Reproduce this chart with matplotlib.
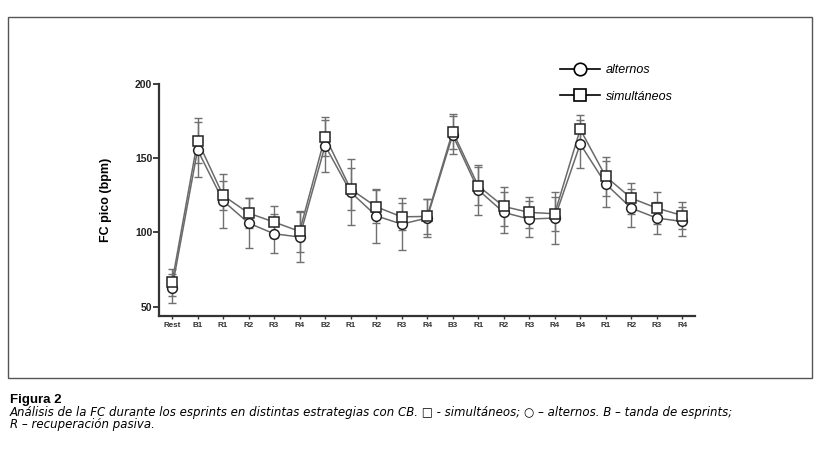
import numpy as np
import matplotlib
matplotlib.use('Agg')
import matplotlib.pyplot as plt
from matplotlib.patches import Rectangle

plt.rcParams['font.family'] = ['Liberation Sans', 'DejaVu Sans']

etiquetas = ['Rest', 'B1', 'R1', 'R2', 'R3', 'R4',
             'B2', 'R1', 'R2', 'R3', 'R4',
             'B3', 'R1', 'R2', 'R3', 'R4',
             'B4', 'R1', 'R2', 'R3', 'R4']

alternos = [62.3, 155.6, 121.3, 106.3, 99.1, 96.9, 158.5, 127.2, 111.2, 105.6, 109.7,
            165.7, 128.7, 113.5, 109.0, 109.7, 159.6, 132.7, 116.4, 109.7, 107.4]
alternos_sd = [10, 18.5, 18, 17, 13, 17, 17.5, 22.5, 18, 17.7, 13,
               12.6, 17, 14, 12.3, 17.5, 16, 15.5, 13, 11, 10]

simultaneos = [66.4, 161.9, 124.9, 113.0, 107.0, 100.7, 164.6, 129.2, 117.3, 110.5, 110.8,
               168.0, 131.4, 117.5, 113.5, 112.6, 169.5, 137.7, 123.1, 116.4, 111.4]
simultaneos_sd = [9.2, 15, 10, 10, 10.5, 14, 13, 14, 11, 9, 12,
                  12, 13, 13, 10.7, 11.5, 9.6, 13.4, 10.5, 11, 9]

x = np.arange(len(etiquetas))

fig = plt.figure(figsize=(8.22, 4.5), dpi=100)
ax = fig.add_axes([0.1938, 0.2978, 0.6517, 0.5155])

# barras de error grises
ax.errorbar(x, alternos, yerr=alternos_sd, fmt='none', ecolor='#707070',
            elinewidth=1.0, capsize=3.2, capthick=1.0, zorder=1)
ax.errorbar(x, simultaneos, yerr=simultaneos_sd, fmt='none', ecolor='#707070',
            elinewidth=1.0, capsize=3.2, capthick=1.0, zorder=1)

# lineas grises con marcadores blancos
ax.plot(x, alternos, color='#6a6a6a', lw=1.1, zorder=2)
ax.plot(x, simultaneos, color='#6a6a6a', lw=1.1, zorder=2)
ax.plot(x, alternos, ls='none', marker='o', ms=7, mfc='white', mec='#222222',
        mew=1.1, zorder=3)
ax.plot(x, simultaneos, ls='none', marker='s', ms=7, mfc='white', mec='#222222',
        mew=1.1, zorder=4)

# leyenda
h1, = ax.plot([], [], color='black', lw=1.2, marker='o', ms=9, mfc='white', mec='black', mew=1.2)
h2, = ax.plot([], [], color='black', lw=1.2, marker='s', ms=9, mfc='white', mec='black', mew=1.2)
ax.legend([h1, h2], ['alternos', 'simultáneos'], frameon=False,
          prop={'style': 'italic', 'size': 9}, handlelength=3.2, handletextpad=0.45,
          labelspacing=1.15, loc='upper left', bbox_to_anchor=(0.739, 1.107),
          borderaxespad=0)

ax.set_xlim(-0.5, 20.5)
ax.set_ylim(43.7, 200)
ax.set_yticks([50, 100, 150, 200])
ax.set_xticks(x)
ax.set_xticklabels(etiquetas, fontsize=5.8, fontweight='bold', color='#333333')
for t in ax.get_yticklabels():
    t.set_fontsize(7.5)
    t.set_fontweight('bold')
    t.set_color('#222222')

for s in ['top', 'right']:
    ax.spines[s].set_visible(False)
for s in ['left', 'bottom']:
    ax.spines[s].set_linewidth(1.6)
    ax.spines[s].set_color('#333333')
ax.tick_params(axis='y', length=4, width=1.3, color='#333333', pad=1)
ax.tick_params(axis='x', length=2.5, width=1.0, color='#333333', pad=2)

ax.set_ylabel('FC pico (bpm)', fontsize=9, fontweight='bold')
ax.yaxis.set_label_coords(-0.088, 0.5)

# marco de la figura
fig.patches.append(Rectangle((8 / 822, 1 - 378 / 450), 804 / 822, 361 / 450,
                             transform=fig.transFigure, fill=False,
                             edgecolor='#555555', lw=1.0))

# pie de figura
fig.text(10 / 822, 1 - 403.5 / 450, 'Figura 2', fontsize=9.5, fontweight='bold',
         va='baseline')
fig.text(10 / 822, 1 - 416 / 450,
         'Análisis de la FC durante los esprints en distintas estrategias con CB. '
         '\u25a1 - simultáneos; \u25cb \u2013 alternos. B \u2013 tanda de esprints;',
         fontsize=8.5, style='italic', va='baseline', family='DejaVu Sans')
fig.text(10 / 822, 1 - 428 / 450, 'R \u2013 recuperación pasiva.',
         fontsize=8.5, style='italic', va='baseline', family='DejaVu Sans')

fig.savefig('out.png', dpi=100)
